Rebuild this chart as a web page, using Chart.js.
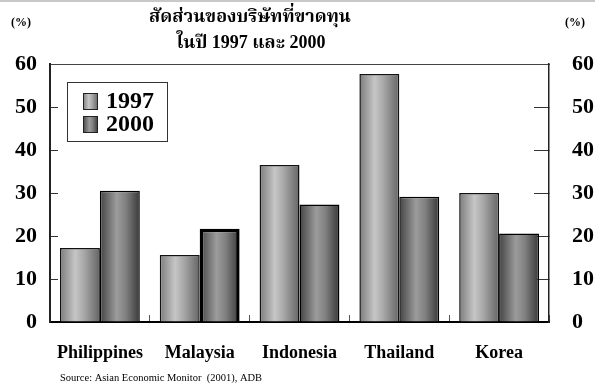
<!DOCTYPE html>
<html lang="th">

<head>
  <meta charset="UTF-8" />
  <title>สัดส่วนของบริษัทที่ขาดทุน</title>
  <script src="https://cdn.jsdelivr.net/npm/chart.js"></script>
  <style>
    body { margin: 0; background: #fff; }
    #wrap { width: 595px; height: 389px; position: relative; }
  </style>
</head>

<body>
  <div id="wrap"><canvas id="lossChart"></canvas></div>

  <script>
    // data
    const countries = ['Philippines', 'Malaysia', 'Indonesia', 'Thailand', 'Korea'];
    const years = ['1997', '2000'];
    const share1997 = [17.2, 15.6, 36.5, 57.7, 30.0];
    const share2000 = [30.5, 21.7, 27.3, 29.1, 20.6];
    const yTicks = [0, 10, 20, 30, 40, 50, 60];
    const titleLines = ['สัดส่วนของบริษัทที่ขาดทุน', 'ในปี 1997 และ 2000'];
    const unitLabel = '(%)';
    const sourceNote = 'Source: Asian Economic Monitor  (2001), ADB';

    const serif = "'Liberation Serif', 'Times New Roman', serif";
    const thaiSerif = "'Liberation Serif', 'Noto Serif Thai', 'Noto Sans Thai', 'Noto Sans', serif";

    // cylinder-ish shading, one palette per year
    const shades = [
      [[0, '#7c7c7c'], [0.38, '#c6c6c6'], [0.6, '#a8a8a8'], [1, '#646464']],
      [[0, '#444444'], [0.42, '#9c9c9c'], [0.65, '#808080'], [1, '#383838']]
    ];

    function shadeFill(ctx, x0, x1, dsIndex) {
      const g = ctx.createLinearGradient(x0, 0, x1, 0);
      shades[dsIndex].forEach(s => g.addColorStop(s[0], s[1]));
      return g;
    }

    function barFill(context) {
      const chart = context.chart;
      const xs = chart.scales.x;
      if (!xs || !chart.chartArea) return '#999';
      const center = xs.getPixelForValue(context.dataIndex);
      const catW = xs.width / countries.length;
      const barW = catW * 0.8 / 2;
      const left = context.datasetIndex === 0 ? center - barW : center;
      return shadeFill(chart.ctx, left, left + barW, context.datasetIndex);
    }

    // texts and the boxed legend
    const decorations = {
      id: 'decorations',
      afterDraw(chart) {
        const ctx = chart.ctx;
        const area = chart.chartArea;
        ctx.save();

        ctx.strokeStyle = '#c8c8c8';
        ctx.lineWidth = 2;
        ctx.beginPath();
        ctx.moveTo(0, 1);
        ctx.lineTo(chart.width, 1);
        ctx.stroke();

        ctx.fillStyle = '#000';
        ctx.textBaseline = 'middle';
        ctx.textAlign = 'center';
        ctx.font = 'bold 18px ' + thaiSerif;
        ctx.fillText(titleLines[0], 250, 17);
        ctx.fillText(titleLines[1], 251, 43);

        ctx.font = 'bold 12px ' + serif;
        ctx.fillText(unitLabel, 21, 23);
        ctx.fillText(unitLabel, 575, 23);

        ctx.textAlign = 'left';
        ctx.font = '10.5px ' + serif;
        ctx.fillText(sourceNote, 60, 378);

        // legend
        const lx = area.left + 17, ly = area.top + 18;
        ctx.strokeStyle = '#333';
        ctx.lineWidth = 1;
        ctx.strokeRect(lx + 0.5, ly + 0.5, 100, 59);
        ctx.font = 'bold 24px ' + serif;
        chart.data.datasets.forEach((ds, i) => {
          const sx = lx + 16, sy = ly + 11 + i * 23;
          ctx.fillStyle = shadeFill(ctx, sx, sx + 15, i);
          ctx.fillRect(sx, sy, 15, 17);
          ctx.strokeStyle = '#222';
          ctx.strokeRect(sx + 0.5, sy + 0.5, 14, 16);
          ctx.fillStyle = '#000';
          ctx.fillText(ds.label, sx + 23, sy + 9);
        });
        ctx.restore();
      }
    };

    new Chart(document.getElementById('lossChart'), {
      type: 'bar',
      data: {
        labels: countries,
        datasets: [
          {
            label: years[0],
            data: share1997,
            backgroundColor: barFill,
            borderColor: '#111',
            borderWidth: 1.5,
            borderSkipped: 'bottom'
          },
          {
            label: years[1],
            data: share2000,
            backgroundColor: barFill,
            borderColor: '#000',
            borderWidth: c => c.dataIndex === 1 ? 3.5 : 1.5,
            borderSkipped: 'bottom'
          }
        ]
      },
      options: {
        responsive: true,
        maintainAspectRatio: false,
        animation: false,
        layout: { padding: { top: 64, left: 0, right: 0, bottom: 0 } },
        datasets: { bar: { categoryPercentage: 0.8, barPercentage: 1.0 } },
        plugins: {
          legend: { display: false },
          title: { display: false },
          tooltip: { enabled: false }
        },
        scales: {
          x: {
            position: 'bottom',
            grid: { drawOnChartArea: false, tickLength: -7, color: '#555', offset: true },
            border: { color: '#000', width: 2 },
            ticks: {
              color: '#000',
              padding: 28,
              maxRotation: 0,
              font: { family: serif, size: 18, weight: 'bold' }
            },
            afterFit: s => { s.height = 67; }
          },
          xTop: {
            position: 'top',
            labels: countries,
            grid: { display: false },
            border: { color: '#444', width: 1 },
            ticks: { display: false },
            afterFit: s => { s.height = 0; }
          },
          y: {
            position: 'left',
            min: 0,
            max: 60,
            afterBuildTicks: s => { s.ticks = yTicks.map(v => ({ value: v })); },
            grid: { drawOnChartArea: false, tickLength: -8, color: '#333' },
            border: { color: '#222', width: 2 },
            ticks: {
              color: '#000',
              padding: 21,
              font: { family: serif, size: 22, weight: 'bold' }
            },
            afterFit: s => { s.width = 50; }
          },
          yRight: {
            position: 'right',
            min: 0,
            max: 60,
            afterBuildTicks: s => { s.ticks = yTicks.map(v => ({ value: v })); },
            grid: { drawOnChartArea: false, tickLength: -15, color: '#333' },
            border: { color: '#222', width: 1.5 },
            ticks: {
              color: '#000',
              padding: 38,
              font: { family: serif, size: 22, weight: 'bold' }
            },
            afterFit: s => { s.width = 46; }
          }
        }
      },
      plugins: [decorations]
    });
  </script>
</body>

</html>
